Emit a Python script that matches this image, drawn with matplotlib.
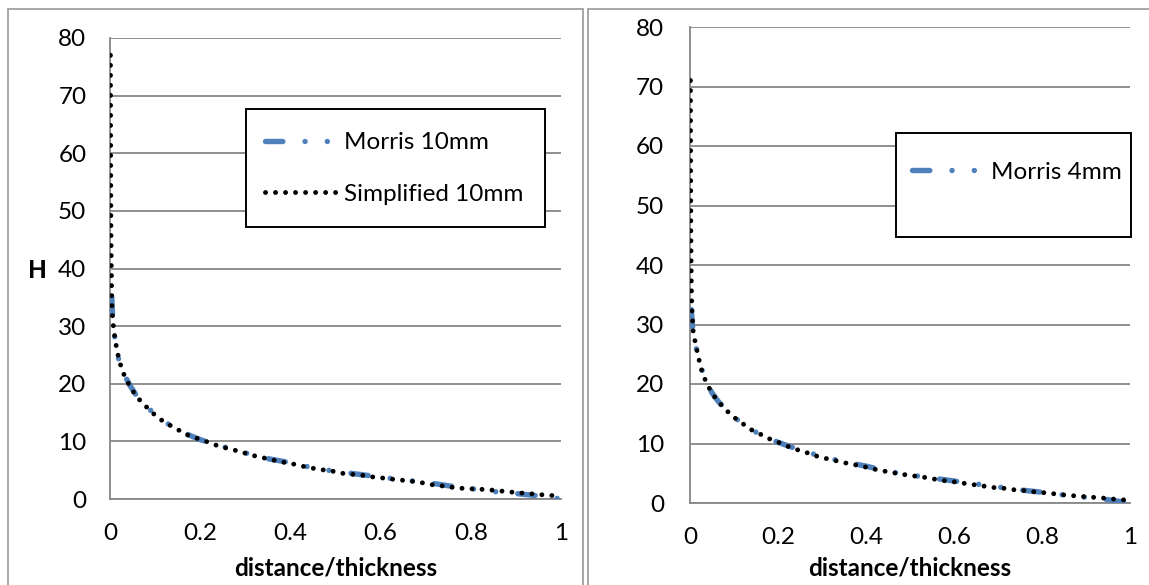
import matplotlib
matplotlib.use("Agg")
import matplotlib.pyplot as plt
from matplotlib.patches import Rectangle

plt.rcParams['font.family'] = ['Lato', 'DejaVu Sans']

# ---------------- data ----------------
x_ticks = [0, 0.2, 0.4, 0.6, 0.8, 1]
x_tick_labels = ["0", "0.2", "0.4", "0.6", "0.8", "1"]
y_ticks = [0, 10, 20, 30, 40, 50, 60, 70, 80]

# left panel (10 mm)
xL_simp = [0.001, 0.0015, 0.002, 0.003, 0.004, 0.006, 0.009, 0.012, 0.016, 0.021,
           0.028, 0.037, 0.048, 0.062, 0.078, 0.095, 0.114, 0.135, 0.156, 0.175,
           0.198, 0.22, 0.24, 0.26, 0.29, 0.31, 0.33, 0.355, 0.375, 0.4,
           0.42, 0.445, 0.467, 0.49, 0.51, 0.535, 0.56, 0.585, 0.61, 0.63,
           0.655, 0.68, 0.70, 0.72, 0.745, 0.77, 0.795, 0.82, 0.84, 0.865,
           0.89, 0.91, 0.935, 0.955, 0.98, 1.0]
HL_simp = [77, 60, 48, 40, 34, 31, 29, 27.4, 25.6, 23.9,
           22.1, 20.6, 19.0, 17.5, 16.2, 14.9, 13.7, 12.7, 11.8, 11.0,
           10.4, 9.8, 9.2, 8.8, 8.2, 7.7, 7.3, 6.9, 6.5, 6.2,
           5.8, 5.4, 5.1, 4.9, 4.5, 4.3, 4.1, 3.8, 3.6, 3.4,
           3.2, 3.0, 2.7, 2.4, 2.2, 1.9, 1.8, 1.7, 1.6, 1.4,
           1.2, 1.05, 0.9, 0.75, 0.6, 0.5]

xL_morris = [0.004, 0.006, 0.008, 0.011, 0.015, 0.02, 0.03, 0.045, 0.06, 0.08,
             0.1, 0.125, 0.15, 0.175, 0.2, 0.25, 0.3, 0.35, 0.4, 0.45,
             0.5, 0.55, 0.6, 0.65, 0.7, 0.75, 0.8, 0.85, 0.9, 0.95, 1.0]
HL_morris = [35, 31, 29.5, 27.8, 25.8, 24, 21.8, 19.6, 17.8, 16.1,
             14.7, 13.2, 12.1, 11.1, 10.3, 9.1, 8.0, 7.0, 6.3, 5.4,
             4.8, 4.3, 3.8, 3.3, 2.9, 2.3, 1.8, 1.3, 0.95, 0.55, 0.0]

# right panel (4 mm)
xR_simp = [0.001, 0.0015, 0.002, 0.003, 0.004, 0.0075, 0.013, 0.017, 0.023, 0.029,
           0.039, 0.05, 0.066, 0.081, 0.098, 0.117, 0.137, 0.159, 0.18, 0.201,
           0.223, 0.246, 0.268, 0.291, 0.314, 0.338, 0.361, 0.384, 0.407, 0.43,
           0.454, 0.477, 0.502, 0.526, 0.549, 0.573, 0.596, 0.619, 0.643, 0.667,
           0.69, 0.716, 0.739, 0.763, 0.786, 0.81, 0.833, 0.857, 0.881, 0.906,
           0.929, 0.953, 0.977, 1.0]
HR_simp = [71, 56, 45, 37, 33.2, 28.5, 26.7, 25.2, 23.3, 21.6,
           20.0, 18.4, 16.9, 15.7, 14.5, 13.5, 12.4, 11.6, 10.8, 10.2,
           9.5, 8.9, 8.4, 7.8, 7.4, 7.0, 6.6, 6.3, 5.9, 5.5,
           5.2, 4.9, 4.6, 4.4, 4.1, 3.8, 3.6, 3.35, 3.1, 2.85,
           2.6, 2.45, 2.2, 2.07, 1.85, 1.7, 1.5, 1.3, 1.17, 1.0,
           0.9, 0.73, 0.55, 0.5]

xR_morris = [0.003, 0.006, 0.01, 0.015, 0.02, 0.03, 0.04, 0.05, 0.065, 0.08,
             0.1, 0.125, 0.15, 0.175, 0.2, 0.25, 0.3, 0.35, 0.4, 0.45,
             0.5, 0.55, 0.6, 0.65, 0.7, 0.75, 0.8, 0.85, 0.9, 0.95, 1.0]
HR_morris = [32.5, 29.5, 27.5, 25.8, 24.2, 21.7, 20, 18.5, 17, 15.8,
             14.4, 13.1, 11.9, 11.0, 10.2, 8.9, 7.8, 6.9, 6.2, 5.3,
             4.7, 4.2, 3.7, 3.2, 2.7, 2.2, 1.8, 1.35, 0.95, 0.55, 0.0]

panels = [
    dict(x_m=xL_morris, h_m=HL_morris, x_s=xL_simp, h_s=HL_simp,
         lab_m="Morris 10mm", lab_s="Simplified 10mm", show_s=True,
         rect=[110, 38, 561, 499], ypad=17.0,
         legbox=[246, 109, 545, 227], leganchor=(265, 168.5)),
    dict(x_m=xR_morris, h_m=HR_morris, x_s=xR_simp, h_s=HR_simp,
         lab_m="Morris 4mm", lab_s="Simplified 4mm", show_s=False,
         rect=[690, 27, 1130, 503], ypad=18.5,
         legbox=[896, 133, 1131, 237], leganchor=(912, 172)),
]

# ---------------- figure ----------------
W, H = 1149, 585
fig = plt.figure(figsize=(W / 100, H / 100), dpi=100)
fig.patch.set_facecolor('white')

# panel borders
border_col = '#a0a0a0'
fig.patches.append(Rectangle((8 / W, -0.05), (583 - 8) / W, (H - 9) / H + 0.05,
                             transform=fig.transFigure, fill=False,
                             edgecolor=border_col, linewidth=1.3))
fig.patches.append(Rectangle((588 / W, -0.05), 0.6, (H - 9) / H + 0.05,
                             transform=fig.transFigure, fill=False,
                             edgecolor=border_col, linewidth=1.3))

grid_col = '#878787'
blue = '#4F81BD'
FS = 17.5

for p in panels:
    x0, y0, x1, y1 = p['rect']
    ax = fig.add_axes([x0 / W, (H - y1) / H, (x1 - x0) / W, (y1 - y0) / H])
    ax.set_xlim(0, 1)
    ax.set_ylim(0, 80)
    ax.set_xticks(x_ticks)
    ax.set_xticklabels(x_tick_labels)
    ax.set_yticks(y_ticks)
    ax.tick_params(axis='both', length=0, labelsize=FS, colors='black')
    ax.tick_params(axis='y', pad=p['ypad'])
    ax.tick_params(axis='x', pad=17.5)
    for s in ['top', 'right']:
        ax.spines[s].set_visible(False)
    for s in ['left', 'bottom']:
        ax.spines[s].set_color(grid_col)
        ax.spines[s].set_linewidth(1.3)
    ax.yaxis.grid(True, color=grid_col, linewidth=1.3)
    ax.set_axisbelow(True)

    lm, = ax.plot(p['x_m'], p['h_m'], color=blue, linewidth=3.9,
                  linestyle=(0, (3.2, 4.1, 0.01, 4.1, 0.01, 4.1)),
                  dash_capstyle='round', label=p['lab_m'], zorder=3)
    ls, = ax.plot(p['x_s'], p['h_s'], color='black', linewidth=3.5,
                  linestyle=(0, (0.01, 2.05)), dash_capstyle='round',
                  label=p['lab_s'], zorder=4)

    ax.set_xlabel("distance/thickness", fontsize=FS, fontweight='bold')
    ax.xaxis.set_label_coords(0.5, (y1 - 568) / (y1 - y0))
    ax.xaxis.label.set_va('center')
    ax.set_ylabel("H", fontsize=FS, fontweight='bold', rotation=0,
                  ha='center', va='center')
    ax.yaxis.set_label_coords((37.5 - x0) / (x1 - x0), (y1 - 270) / (y1 - y0))

    # legend frame
    bx0, by0, bx1, by1 = p['legbox']
    ax.add_patch(Rectangle(((bx0 - x0) / (x1 - x0), (y1 - by1) / (y1 - y0)),
                           (bx1 - bx0) / (x1 - x0), (by1 - by0) / (y1 - y0),
                           transform=ax.transAxes, facecolor='white',
                           edgecolor='black', linewidth=1.4, zorder=5,
                           clip_on=False))
    handles = [lm, ls] if p['show_s'] else [lm]
    ax_, ay_ = p['leganchor']
    leg = ax.legend(handles=handles, loc='center left',
                    bbox_to_anchor=((ax_ - x0) / (x1 - x0), (y1 - ay_) / (y1 - y0)),
                    frameon=False, fontsize=FS, handlelength=2.95,
                    handletextpad=0.3, labelspacing=1.25, borderpad=0,
                    borderaxespad=0)
    leg.set_zorder(6)

fig.savefig("out.png", dpi=100, facecolor='white')
